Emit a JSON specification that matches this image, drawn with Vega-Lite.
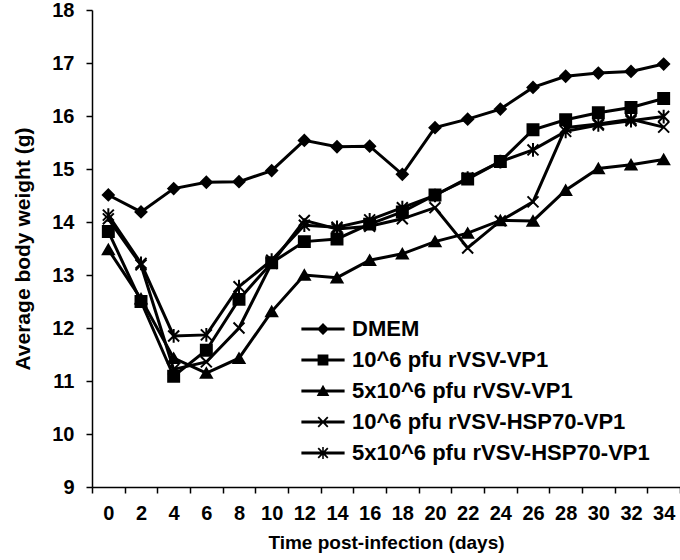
{
  "$schema": "https://vega.github.io/schema/vega-lite/v6.json",
  "width": 588,
  "height": 477,
  "autosize": {"type": "none"},
  "padding": {"left": 92, "top": 10, "right": 0, "bottom": 73},
  "background": "white",
  "config": {
    "view": {"stroke": null},
    "font": "Liberation Sans",
    "axis": {"labelFont": "Liberation Sans", "titleFont": "Liberation Sans", "labelFontWeight": "bold", "titleFontWeight": "bold", "labelColor": "black", "titleColor": "black", "domainColor": "black", "tickColor": "black", "domainWidth": 1.5, "tickWidth": 1.5, "tickSize": 6, "grid": false, "labelFontSize": 20, "titleFontSize": 20}
  },
  "datasets": {
    "weights": [
      {"day": 0, "series": "DMEM", "w": 14.51},
      {"day": 2, "series": "DMEM", "w": 14.19},
      {"day": 4, "series": "DMEM", "w": 14.63},
      {"day": 6, "series": "DMEM", "w": 14.75},
      {"day": 8, "series": "DMEM", "w": 14.76},
      {"day": 10, "series": "DMEM", "w": 14.97},
      {"day": 12, "series": "DMEM", "w": 15.54},
      {"day": 14, "series": "DMEM", "w": 15.42},
      {"day": 16, "series": "DMEM", "w": 15.43},
      {"day": 18, "series": "DMEM", "w": 14.90},
      {"day": 20, "series": "DMEM", "w": 15.78},
      {"day": 22, "series": "DMEM", "w": 15.94},
      {"day": 24, "series": "DMEM", "w": 16.13},
      {"day": 26, "series": "DMEM", "w": 16.54},
      {"day": 28, "series": "DMEM", "w": 16.75},
      {"day": 30, "series": "DMEM", "w": 16.81},
      {"day": 32, "series": "DMEM", "w": 16.84},
      {"day": 34, "series": "DMEM", "w": 16.98},
      {"day": 0, "series": "10^6 pfu rVSV-VP1", "w": 13.82},
      {"day": 2, "series": "10^6 pfu rVSV-VP1", "w": 12.50},
      {"day": 4, "series": "10^6 pfu rVSV-VP1", "w": 11.09},
      {"day": 6, "series": "10^6 pfu rVSV-VP1", "w": 11.58},
      {"day": 8, "series": "10^6 pfu rVSV-VP1", "w": 12.54},
      {"day": 10, "series": "10^6 pfu rVSV-VP1", "w": 13.23},
      {"day": 12, "series": "10^6 pfu rVSV-VP1", "w": 13.63},
      {"day": 14, "series": "10^6 pfu rVSV-VP1", "w": 13.68},
      {"day": 16, "series": "10^6 pfu rVSV-VP1", "w": 13.96},
      {"day": 18, "series": "10^6 pfu rVSV-VP1", "w": 14.19},
      {"day": 20, "series": "10^6 pfu rVSV-VP1", "w": 14.51},
      {"day": 22, "series": "10^6 pfu rVSV-VP1", "w": 14.81},
      {"day": 24, "series": "10^6 pfu rVSV-VP1", "w": 15.14},
      {"day": 26, "series": "10^6 pfu rVSV-VP1", "w": 15.74},
      {"day": 28, "series": "10^6 pfu rVSV-VP1", "w": 15.93},
      {"day": 30, "series": "10^6 pfu rVSV-VP1", "w": 16.06},
      {"day": 32, "series": "10^6 pfu rVSV-VP1", "w": 16.16},
      {"day": 34, "series": "10^6 pfu rVSV-VP1", "w": 16.33},
      {"day": 0, "series": "5x10^6 pfu rVSV-VP1", "w": 13.48},
      {"day": 2, "series": "5x10^6 pfu rVSV-VP1", "w": 12.55},
      {"day": 4, "series": "5x10^6 pfu rVSV-VP1", "w": 11.43},
      {"day": 6, "series": "5x10^6 pfu rVSV-VP1", "w": 11.15},
      {"day": 8, "series": "5x10^6 pfu rVSV-VP1", "w": 11.43},
      {"day": 10, "series": "5x10^6 pfu rVSV-VP1", "w": 12.31},
      {"day": 12, "series": "5x10^6 pfu rVSV-VP1", "w": 13.00},
      {"day": 14, "series": "5x10^6 pfu rVSV-VP1", "w": 12.95},
      {"day": 16, "series": "5x10^6 pfu rVSV-VP1", "w": 13.28},
      {"day": 18, "series": "5x10^6 pfu rVSV-VP1", "w": 13.40},
      {"day": 20, "series": "5x10^6 pfu rVSV-VP1", "w": 13.63},
      {"day": 22, "series": "5x10^6 pfu rVSV-VP1", "w": 13.79},
      {"day": 24, "series": "5x10^6 pfu rVSV-VP1", "w": 14.03},
      {"day": 26, "series": "5x10^6 pfu rVSV-VP1", "w": 14.02},
      {"day": 28, "series": "5x10^6 pfu rVSV-VP1", "w": 14.60},
      {"day": 30, "series": "5x10^6 pfu rVSV-VP1", "w": 15.01},
      {"day": 32, "series": "5x10^6 pfu rVSV-VP1", "w": 15.08},
      {"day": 34, "series": "5x10^6 pfu rVSV-VP1", "w": 15.18},
      {"day": 0, "series": "10^6 pfu rVSV-HSP70-VP1", "w": 14.06},
      {"day": 2, "series": "10^6 pfu rVSV-HSP70-VP1", "w": 13.19},
      {"day": 4, "series": "10^6 pfu rVSV-HSP70-VP1", "w": 11.22},
      {"day": 6, "series": "10^6 pfu rVSV-HSP70-VP1", "w": 11.36},
      {"day": 8, "series": "10^6 pfu rVSV-HSP70-VP1", "w": 12.00},
      {"day": 10, "series": "10^6 pfu rVSV-HSP70-VP1", "w": 13.22},
      {"day": 12, "series": "10^6 pfu rVSV-HSP70-VP1", "w": 14.03},
      {"day": 14, "series": "10^6 pfu rVSV-HSP70-VP1", "w": 13.87},
      {"day": 16, "series": "10^6 pfu rVSV-HSP70-VP1", "w": 13.92},
      {"day": 18, "series": "10^6 pfu rVSV-HSP70-VP1", "w": 14.06},
      {"day": 20, "series": "10^6 pfu rVSV-HSP70-VP1", "w": 14.27},
      {"day": 22, "series": "10^6 pfu rVSV-HSP70-VP1", "w": 13.51},
      {"day": 24, "series": "10^6 pfu rVSV-HSP70-VP1", "w": 14.02},
      {"day": 26, "series": "10^6 pfu rVSV-HSP70-VP1", "w": 14.38},
      {"day": 28, "series": "10^6 pfu rVSV-HSP70-VP1", "w": 15.78},
      {"day": 30, "series": "10^6 pfu rVSV-HSP70-VP1", "w": 15.85},
      {"day": 32, "series": "10^6 pfu rVSV-HSP70-VP1", "w": 15.94},
      {"day": 34, "series": "10^6 pfu rVSV-HSP70-VP1", "w": 15.79},
      {"day": 0, "series": "5x10^6 pfu rVSV-HSP70-VP1", "w": 14.13},
      {"day": 2, "series": "5x10^6 pfu rVSV-HSP70-VP1", "w": 13.22},
      {"day": 4, "series": "5x10^6 pfu rVSV-HSP70-VP1", "w": 11.85},
      {"day": 6, "series": "5x10^6 pfu rVSV-HSP70-VP1", "w": 11.87},
      {"day": 8, "series": "5x10^6 pfu rVSV-HSP70-VP1", "w": 12.78},
      {"day": 10, "series": "5x10^6 pfu rVSV-HSP70-VP1", "w": 13.28},
      {"day": 12, "series": "5x10^6 pfu rVSV-HSP70-VP1", "w": 13.94},
      {"day": 14, "series": "5x10^6 pfu rVSV-HSP70-VP1", "w": 13.90},
      {"day": 16, "series": "5x10^6 pfu rVSV-HSP70-VP1", "w": 14.04},
      {"day": 18, "series": "5x10^6 pfu rVSV-HSP70-VP1", "w": 14.27},
      {"day": 20, "series": "5x10^6 pfu rVSV-HSP70-VP1", "w": 14.50},
      {"day": 22, "series": "5x10^6 pfu rVSV-HSP70-VP1", "w": 14.83},
      {"day": 24, "series": "5x10^6 pfu rVSV-HSP70-VP1", "w": 15.14},
      {"day": 26, "series": "5x10^6 pfu rVSV-HSP70-VP1", "w": 15.36},
      {"day": 28, "series": "5x10^6 pfu rVSV-HSP70-VP1", "w": 15.71},
      {"day": 30, "series": "5x10^6 pfu rVSV-HSP70-VP1", "w": 15.83},
      {"day": 32, "series": "5x10^6 pfu rVSV-HSP70-VP1", "w": 15.91},
      {"day": 34, "series": "5x10^6 pfu rVSV-HSP70-VP1", "w": 15.99}
    ]
  },
  "data": {"name": "weights"},
  "encoding": {
    "x": {
      "field": "day", "type": "quantitative",
      "scale": {"domain": [-1, 35], "nice": false, "zero": false},
      "axis": {
        "title": "Time post-infection (days)",
        "titleFontSize": 19,
        "values": [-1,0,1,2,3,4,5,6,7,8,9,10,11,12,13,14,15,16,17,18,19,20,21,22,23,24,25,26,27,28,29,30,31,32,33,34,35],
        "labelExpr": "datum.value % 2 == 0 ? datum.label : ''",
        "tickOpacity": {"condition": {"test": "datum.value % 2 == 0", "value": 0}, "value": 1},
        "labelPadding": 10,
        "labelFlush": false,
        "labelOverlap": false,
        "titlePadding": 10
      }
    },
    "y": {
      "field": "w", "type": "quantitative",
      "scale": {"domain": [9, 18], "nice": false, "zero": false},
      "axis": {
        "title": "Average body weight (g)",
        "values": [9,10,11,12,13,14,15,16,17,18],
        "labelPadding": 12,
        "titlePadding": 18,
        "titleFontSize": 21,
        "labelFlush": false
      }
    }
  },
  "layer": [
    {
      "mark": {"type": "line", "color": "black", "strokeWidth": 3},
      "encoding": {"detail": {"field": "series"}}
    },
    {
      "mark": {"type": "point", "filled": true, "color": "black", "stroke": "black", "strokeWidth": 2, "size": 120, "opacity": 1},
      "encoding": {
        "shape": {
          "field": "series",
          "scale": {
            "domain": ["DMEM", "10^6 pfu rVSV-VP1", "5x10^6 pfu rVSV-VP1", "10^6 pfu rVSV-HSP70-VP1", "5x10^6 pfu rVSV-HSP70-VP1"],
            "range": ["diamond", "square", "triangle-up", "M-1,-1L1,1M-1,1L1,-1", "M-1,-1L1,1M-1,1L1,-1M0,-1.25L0,1.25"]
          },
          "legend": null
        }
      }
    },
    {
      "mark": {"type": "point", "filled": true, "color": "black", "opacity": 0, "size": 144},
      "encoding": {
        "shape": {
          "field": "series",
          "scale": {
            "domain": ["DMEM", "10^6 pfu rVSV-VP1", "5x10^6 pfu rVSV-VP1", "10^6 pfu rVSV-HSP70-VP1", "5x10^6 pfu rVSV-HSP70-VP1"],
            "range": [
              "M-3.6,-0.25H3.6V0.25H-3.6ZM-1,0L0,-1L1,0L0,1Z",
              "M-3.6,-0.25H3.6V0.25H-3.6ZM-0.9,-0.9H0.9V0.9H-0.9Z",
              "M-3.6,-0.25H3.6V0.25H-3.6ZM0,-1.05L1.05,0.85H-1.05Z",
              "M-3.6,-0.25H3.6V0.25H-3.6ZM-0.694,-0.906L0.906,0.694L0.694,0.906L-0.906,-0.694ZM-0.906,0.694L0.694,-0.906L0.906,-0.694L-0.694,0.906Z",
              "M-3.6,-0.25H3.6V0.25H-3.6ZM-0.694,-0.906L0.906,0.694L0.694,0.906L-0.906,-0.694ZM-0.906,0.694L0.694,-0.906L0.906,-0.694L-0.694,0.906ZM-0.13,-1H0.13V1H-0.13Z"
            ]
          },
          "legend": {
            "title": null,
            "orient": "none",
            "legendX": 220,
            "legendY": 308,
            "padding": 0,
            "symbolSize": 144,
            "symbolOpacity": 1,
            "symbolFillColor": "black",
            "symbolStrokeWidth": 0,
            "labelFont": "Liberation Sans",
            "labelFontWeight": "bold",
            "labelFontSize": 22,
            "labelColor": "black",
            "labelOffset": 18,
            "labelLimit": 400,
            "rowPadding": 9
          }
        }
      }
    }
  ],
  "resolve": {"scale": {"shape": "independent"}}
}
